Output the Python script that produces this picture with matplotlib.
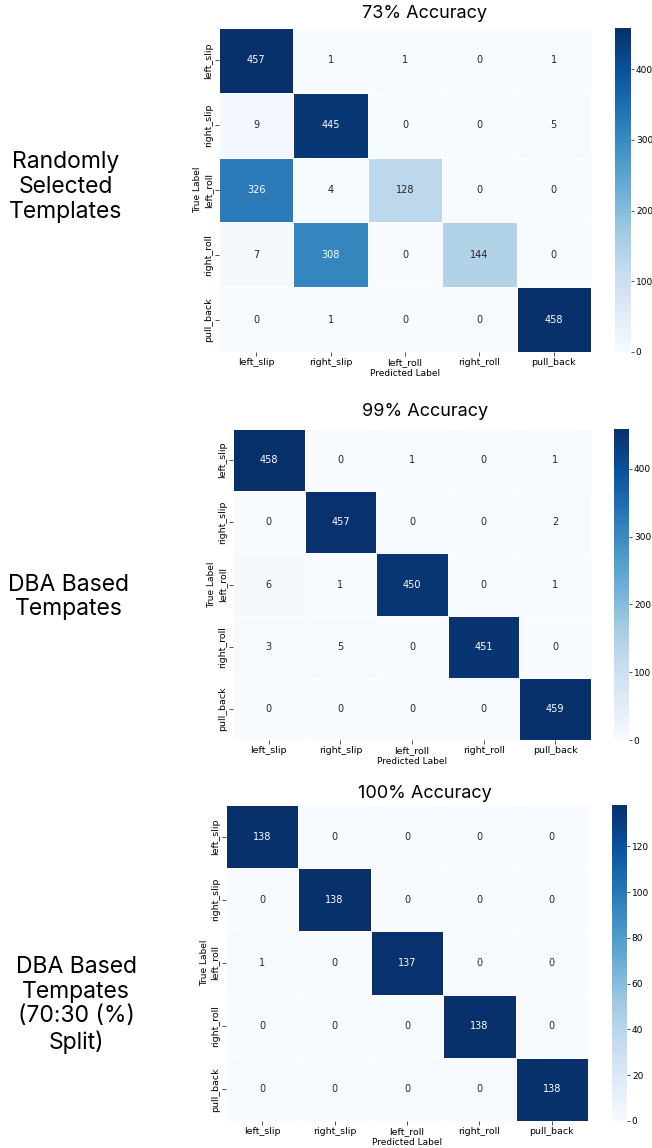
import numpy as np
import matplotlib
matplotlib.use("Agg")
import matplotlib.pyplot as plt
import seaborn as sns

# DATA

labels = ['left_slip', 'right_slip', 'left_roll', 'right_roll', 'pull_back']

cm_random = [
    [457, 1, 1, 0, 1],
    [9, 445, 0, 0, 5],
    [326, 4, 128, 0, 0],
    [7, 308, 0, 144, 0],
    [0, 1, 0, 0, 458],
]

cm_dba = [
    [458, 0, 1, 0, 1],
    [0, 457, 0, 0, 2],
    [6, 1, 450, 0, 1],
    [3, 5, 0, 451, 0],
    [0, 0, 0, 0, 459],
]

cm_split = [
    [138, 0, 0, 0, 0],
    [0, 138, 0, 0, 0],
    [1, 0, 137, 0, 0],
    [0, 0, 0, 138, 0],
    [0, 0, 0, 0, 138],
]

titles = ['73% Accuracy', '99% Accuracy', '100% Accuracy']
side_texts = ['Randomly\nSelected\nTemplates', 'DBA Based\nTempates', 'DBA Based\nTempates\n(70:30 (%)\nSplit)']

# LAYOUT (pixels)

W, H = 652, 1148
fig = plt.figure(figsize=(W / 100, H / 100), dpi=100)

# heatmap box: left, right, top, bottom ; colorbar left, right
panels = [
    dict(hm=(219, 591, 28, 352), cb=(615, 631), title_y=13, text_xy=(66, 187)),
    dict(hm=(233, 591, 429, 740), cb=(614, 629), title_y=411, text_xy=(69, 597)),
    dict(hm=(226, 588, 805, 1121), cb=(612, 627), title_y=793, text_xy=(76, 1005)),
]

mats = [cm_random, cm_dba, cm_split]
side_font = 'Inter'


def px_axes(l, r, t, b):
    return fig.add_axes([l / W, 1 - b / H, (r - l) / W, (b - t) / H])


for mat, p, title, txt in zip(mats, panels, titles, side_texts):
    l, r, t, b = p['hm']
    ax = px_axes(l, r, t, b)
    cax = px_axes(p['cb'][0], p['cb'][1], t, b)

    sns.heatmap(
        np.array(mat),
        annot=True,
        fmt='d',
        cmap='Blues',
        linewidths=0.5,
        linecolor='white',
        xticklabels=labels,
        yticklabels=labels,
        ax=ax,
        cbar_ax=cax,
        annot_kws={'fontsize': 7},
    )

    ax.set_xlabel('Predicted Label', fontsize=6.5, labelpad=1.5)
    ax.set_ylabel('True Label', fontsize=6.5, labelpad=1.5)
    ax.tick_params(axis='both', labelsize=6.8, length=3, width=0.6, color='#333333', pad=1.5)
    plt.setp(ax.get_yticklabels(), rotation=90, va='center')
    plt.setp(ax.get_xticklabels(), rotation=0)

    cax.tick_params(labelsize=6.5, length=2.5, width=0.6, color='#333333', pad=1)
    for s in cax.spines.values():
        s.set_visible(False)

    fig.text(425 / W, 1 - p['title_y'] / H, title, ha='center', va='center',
             fontsize=13, family=side_font)

    tx, ty = p['text_xy']
    fig.text(tx / W, 1 - ty / H, txt, ha='center', va='center',
             fontsize=16.5, family=side_font, linespacing=1.15)

fig.savefig('out.png', dpi=100)
